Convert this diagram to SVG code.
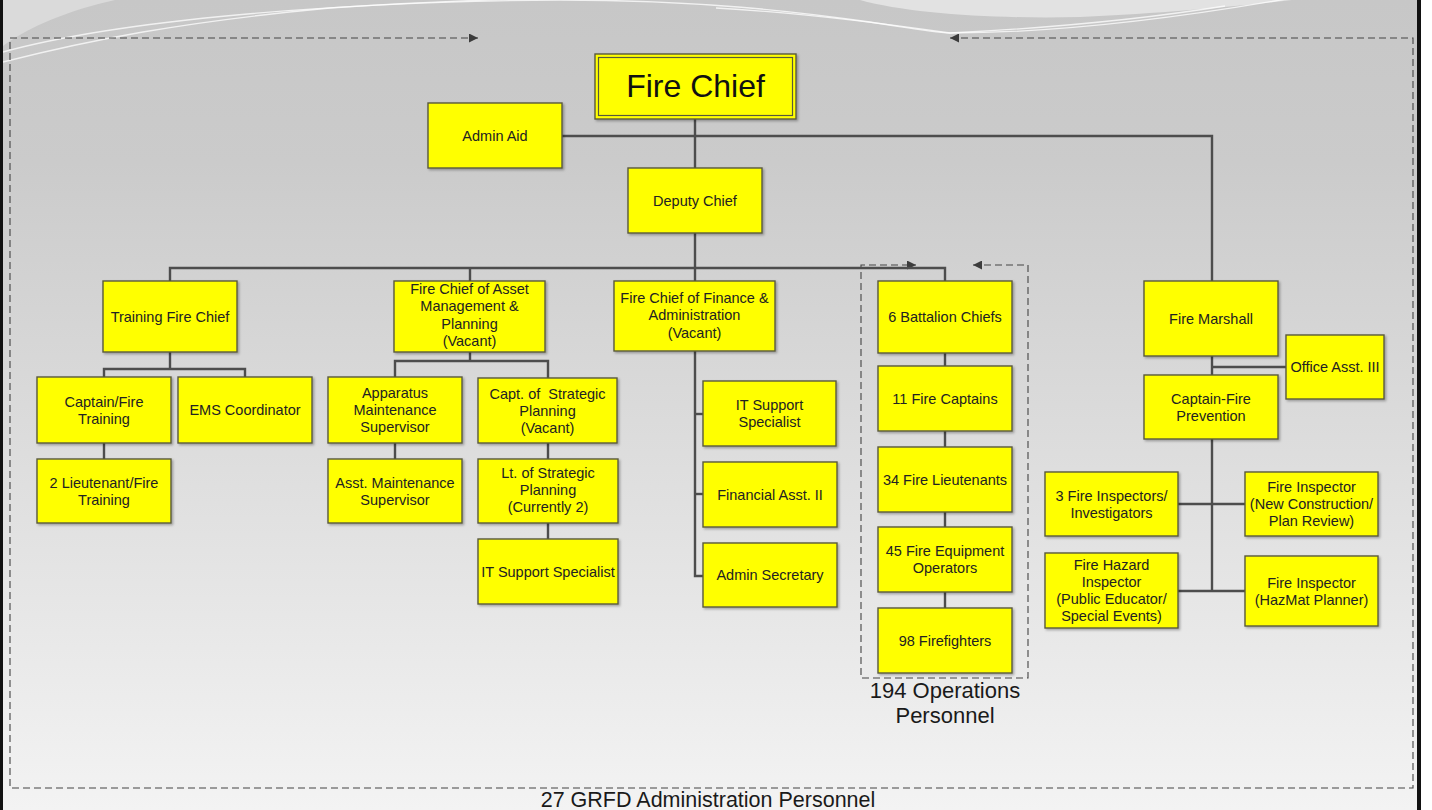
<svg xmlns="http://www.w3.org/2000/svg" width="1432" height="810" viewBox="0 0 1432 810">
  <defs>
    <linearGradient id="bg" x1="0" y1="0" x2="0" y2="1">
      <stop offset="0" stop-color="#c7c7c7"/>
      <stop offset="0.2" stop-color="#cbcbcb"/>
      <stop offset="1" stop-color="#f3f3f3"/>
    </linearGradient>
    <filter id="shadow" x="-10%" y="-10%" width="125%" height="130%">
      <feDropShadow dx="1.5" dy="1.5" stdDeviation="1" flood-color="#000" flood-opacity="0.3"/>
    </filter>
    <marker id="arrow" viewBox="0 0 10 10" refX="10" refY="5" markerWidth="9" markerHeight="9" markerUnits="userSpaceOnUse" orient="auto-start-reverse">
      <path d="M0 0 L10 5 L0 10 Z" fill="#3c3c3c"/>
    </marker>
    <style>
      .box { fill: #ffff00; stroke: #5a5a3c; stroke-width: 1.4; filter: url(#shadow); }
      .chief-inner { fill: none; stroke: #5a5a3c; stroke-width: 1.2; }
      .label { font-family: "Liberation Sans", Arial, sans-serif; font-size: 14.5px; fill: #222; text-anchor: middle; }
      .title { font-family: "Liberation Sans", Arial, sans-serif; font-size: 32px; fill: #111; text-anchor: middle; }
      .caption { font-family: "Liberation Sans", Arial, sans-serif; font-size: 22px; fill: #1a1a1a; text-anchor: middle; }
      .conn { fill: none; stroke: #4d4d4d; stroke-width: 2.4; }
      .bound { fill: none; stroke: #444; stroke-width: 1.1; stroke-dasharray: 7 4; }
      .swoosh { fill: none; stroke: #ffffff; stroke-width: 1.3; opacity: 0.75; }
    </style>
  </defs>

  <!-- slide background -->
  <rect x="0" y="0" width="1432" height="810" fill="#ffffff"/>
  <rect x="3" y="0" width="1415" height="810" fill="url(#bg)"/>
  <path d="M860 0 C 910 14, 1000 19, 1080 17 C 1170 13, 1240 6, 1292 0 Z" fill="#e2e2e2"/>
  <path d="M3 0 L3 46 C 30 26, 70 10, 115 0 Z" fill="#dadada"/>
  <path class="swoosh" d="M3 52 C 120 20, 330 2, 560 0 C 700 0, 800 12, 870 22 C 910 28, 930 32, 950 33 C 1060 33, 1190 16, 1292 -2"/>
  <path class="swoosh" d="M3 62 C 90 40, 180 22, 330 8 C 420 2, 480 0, 520 -1"/>
  <path class="swoosh" d="M716 8 C 790 12, 860 20, 950 33 C 1050 28, 1150 18, 1225 6"/>
  <rect x="0" y="0" width="3" height="810" fill="#111"/>
  <rect x="1417" y="0" width="4" height="810" fill="#111"/>

  <!-- group boundaries -->
  <g id="boundaries">
    <path class="bound" d="M950 38 H1413 V788 H10 V38 H478" marker-start="url(#arrow)" marker-end="url(#arrow)"/>
    <path class="bound" d="M973 265 H1028 V678 H861 V265 H916" marker-start="url(#arrow)" marker-end="url(#arrow)"/>
    <text class="caption" x="945" y="698">194 Operations</text>
    <text class="caption" x="945" y="723">Personnel</text>
    <text class="caption" x="708" y="807" style="font-size:21.5px">27 GRFD Administration Personnel</text>
  </g>

  <!-- reporting lines -->
  <g id="connectors">
    <path class="conn" d="M695 119 V168"/>
    <path class="conn" d="M562 136 H1212 V281"/>
    <path class="conn" d="M695 233 V281"/>
    <path class="conn" d="M170 281 V268 H945 V281"/>
    <path class="conn" d="M470 268 V281"/>
    <path class="conn" d="M170 352 V369"/>
    <path class="conn" d="M104 377 V369 H245 V377"/>
    <path class="conn" d="M104 443 V459"/>
    <path class="conn" d="M470 352 V361"/>
    <path class="conn" d="M395 377 V361 H548 V378"/>
    <path class="conn" d="M395 443 V459"/>
    <path class="conn" d="M548 443 V459"/>
    <path class="conn" d="M548 523 V539"/>
    <path class="conn" d="M695 351 V576 H703"/>
    <path class="conn" d="M695 414 H703"/>
    <path class="conn" d="M695 494 H703"/>
    <path class="conn" d="M945 353 V366"/>
    <path class="conn" d="M945 431 V447"/>
    <path class="conn" d="M945 512 V527"/>
    <path class="conn" d="M945 592 V608"/>
    <path class="conn" d="M1212 356 V375"/>
    <path class="conn" d="M1212 367 H1286"/>
    <path class="conn" d="M1212 439 V591"/>
    <path class="conn" d="M1178 504 H1245"/>
    <path class="conn" d="M1178 591 H1245"/>
  </g>

  <!-- positions -->
  <g id="fire-chief">
    <rect class="box" x="595" y="54" width="201" height="65"/>
    <rect class="chief-inner" x="598.5" y="57.5" width="194" height="58"/>
    <text class="title" x="695.5" y="97">Fire Chief</text>
  </g>
  <g id="admin-aid">
    <rect class="box" x="428" y="103" width="134" height="65"/>
    <text class="label" x="495" y="140.5">Admin Aid</text>
  </g>
  <g id="deputy-chief">
    <rect class="box" x="628" y="168" width="134" height="65"/>
    <text class="label" x="695" y="205.5">Deputy Chief</text>
  </g>

  <g id="training-fire-chief">
    <rect class="box" x="103" y="281" width="134" height="71"/>
    <text class="label" x="170" y="321.5">Training Fire Chief</text>
  </g>
  <g id="asset-management-chief">
    <rect class="box" x="394" y="281" width="151" height="71"/>
    <text class="label" x="469.5" y="294">Fire Chief of Asset</text>
    <text class="label" x="469.5" y="311.3">Management &amp;</text>
    <text class="label" x="469.5" y="328.6">Planning</text>
    <text class="label" x="469.5" y="345.9">(Vacant)</text>
  </g>
  <g id="finance-chief">
    <rect class="box" x="614" y="281" width="161" height="70"/>
    <text class="label" x="694.5" y="303">Fire Chief of Finance &amp;</text>
    <text class="label" x="694.5" y="320.3">Administration</text>
    <text class="label" x="694.5" y="337.6">(Vacant)</text>
  </g>
  <g id="battalion-chiefs">
    <rect class="box" x="878" y="281" width="134" height="72"/>
    <text class="label" x="945" y="322">6 Battalion Chiefs</text>
  </g>
  <g id="fire-marshall">
    <rect class="box" x="1144" y="281" width="134" height="75"/>
    <text class="label" x="1211" y="323.5">Fire Marshall</text>
  </g>

  <g id="captain-fire-training">
    <rect class="box" x="37" y="377" width="134" height="66"/>
    <text class="label" x="104" y="406.5">Captain/Fire</text>
    <text class="label" x="104" y="423.5">Training</text>
  </g>
  <g id="ems-coordinator">
    <rect class="box" x="178" y="377" width="134" height="66"/>
    <text class="label" x="245" y="415">EMS Coordinator</text>
  </g>
  <g id="lieutenant-fire-training">
    <rect class="box" x="37" y="459" width="134" height="64"/>
    <text class="label" x="104" y="487.5">2 Lieutenant/Fire</text>
    <text class="label" x="104" y="504.5">Training</text>
  </g>

  <g id="apparatus-supervisor">
    <rect class="box" x="328" y="377" width="134" height="66"/>
    <text class="label" x="395" y="398">Apparatus</text>
    <text class="label" x="395" y="415">Maintenance</text>
    <text class="label" x="395" y="432">Supervisor</text>
  </g>
  <g id="asst-maintenance-supervisor">
    <rect class="box" x="328" y="459" width="134" height="64"/>
    <text class="label" x="395" y="487.5">Asst. Maintenance</text>
    <text class="label" x="395" y="504.5">Supervisor</text>
  </g>
  <g id="capt-strategic-planning">
    <rect class="box" x="478" y="378" width="139" height="65"/>
    <text class="label" x="547.5" y="398.5" xml:space="preserve">Capt. of  Strategic</text>
    <text class="label" x="547.5" y="415.5">Planning</text>
    <text class="label" x="547.5" y="432.5">(Vacant)</text>
  </g>
  <g id="lt-strategic-planning">
    <rect class="box" x="478" y="459" width="140" height="64"/>
    <text class="label" x="548" y="478">Lt. of Strategic</text>
    <text class="label" x="548" y="495">Planning</text>
    <text class="label" x="548" y="512">(Currently 2)</text>
  </g>
  <g id="it-support-planning">
    <rect class="box" x="478" y="539" width="140" height="65"/>
    <text class="label" x="548" y="576.5">IT Support Specialist</text>
  </g>

  <g id="it-support-finance">
    <rect class="box" x="703" y="381" width="133" height="65"/>
    <text class="label" x="769.5" y="410">IT Support</text>
    <text class="label" x="769.5" y="427">Specialist</text>
  </g>
  <g id="financial-asst">
    <rect class="box" x="703" y="462" width="134" height="65"/>
    <text class="label" x="770" y="499.5">Financial Asst. II</text>
  </g>
  <g id="admin-secretary">
    <rect class="box" x="703" y="543" width="134" height="64"/>
    <text class="label" x="770" y="580">Admin Secretary</text>
  </g>

  <g id="fire-captains">
    <rect class="box" x="878" y="366" width="134" height="65"/>
    <text class="label" x="945" y="403.5">11 Fire Captains</text>
  </g>
  <g id="fire-lieutenants">
    <rect class="box" x="878" y="447" width="134" height="65"/>
    <text class="label" x="945" y="484.5">34 Fire Lieutenants</text>
  </g>
  <g id="equipment-operators">
    <rect class="box" x="878" y="527" width="134" height="65"/>
    <text class="label" x="945" y="556">45 Fire Equipment</text>
    <text class="label" x="945" y="573">Operators</text>
  </g>
  <g id="firefighters">
    <rect class="box" x="878" y="608" width="134" height="65"/>
    <text class="label" x="945" y="645.5">98 Firefighters</text>
  </g>

  <g id="office-asst">
    <rect class="box" x="1286" y="335" width="98" height="64"/>
    <text class="label" x="1335" y="372">Office Asst. III</text>
  </g>
  <g id="captain-fire-prevention">
    <rect class="box" x="1144" y="375" width="134" height="64"/>
    <text class="label" x="1211" y="403.5">Captain-Fire</text>
    <text class="label" x="1211" y="420.5">Prevention</text>
  </g>
  <g id="fire-inspectors-investigators">
    <rect class="box" x="1045" y="472" width="133" height="64"/>
    <text class="label" x="1111.5" y="500.5">3 Fire Inspectors/</text>
    <text class="label" x="1111.5" y="517.5">Investigators</text>
  </g>
  <g id="fire-inspector-plan-review">
    <rect class="box" x="1245" y="472" width="133" height="64"/>
    <text class="label" x="1311.5" y="492">Fire Inspector</text>
    <text class="label" x="1311.5" y="509">(New Construction/</text>
    <text class="label" x="1311.5" y="526">Plan Review)</text>
  </g>
  <g id="fire-hazard-inspector">
    <rect class="box" x="1045" y="553" width="133" height="75"/>
    <text class="label" x="1111.5" y="570">Fire Hazard</text>
    <text class="label" x="1111.5" y="587">Inspector</text>
    <text class="label" x="1111.5" y="604">(Public Educator/</text>
    <text class="label" x="1111.5" y="621">Special Events)</text>
  </g>
  <g id="fire-inspector-hazmat">
    <rect class="box" x="1245" y="556" width="133" height="70"/>
    <text class="label" x="1311.5" y="587.5">Fire Inspector</text>
    <text class="label" x="1311.5" y="604.5">(HazMat Planner)</text>
  </g>
</svg>
